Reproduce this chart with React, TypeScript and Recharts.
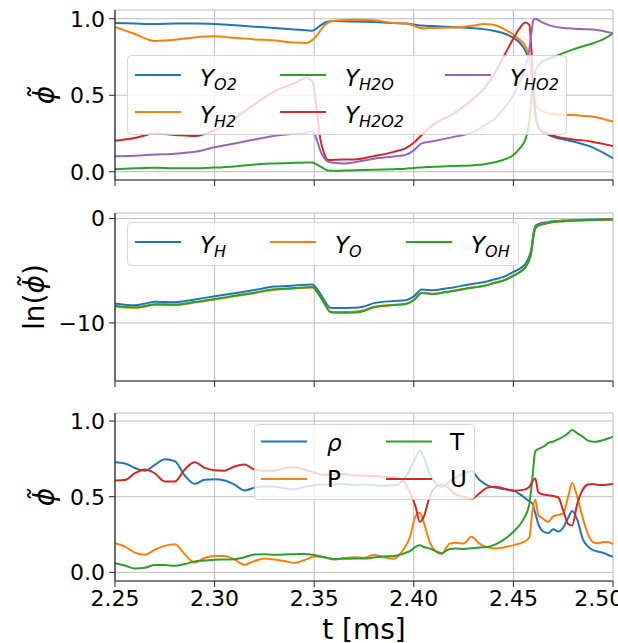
import { LineChart, Line, XAxis, YAxis, CartesianGrid, Legend } from 'recharts';

const FONT = 'DejaVu Sans, sans-serif';
const C = { blue: '#1f77b4', orange: '#ff7f0e', green: '#2ca02c', red: '#d62728', purple: '#9467bd' };
const X_TICKS = [2.25, 2.3, 2.35, 2.4, 2.45, 2.5];
const SPINE = '#222';
const GRID = '#bdbdbd';

// top panel: major species
const tTop = [2.25, 2.26, 2.27, 2.28, 2.29, 2.30, 2.31, 2.32, 2.33, 2.34, 2.346, 2.349, 2.351, 2.353, 2.355, 2.357,
  2.36, 2.365, 2.37, 2.38, 2.39, 2.396, 2.40, 2.404, 2.41, 2.42, 2.43, 2.435, 2.44, 2.445, 2.45, 2.453, 2.456,
  2.458, 2.459, 2.460, 2.461, 2.462, 2.464, 2.467, 2.47, 2.475, 2.48, 2.485, 2.49, 2.495, 2.50];
const yO2 = [0.972, 0.968, 0.965, 0.968, 0.968, 0.965, 0.958, 0.948, 0.94, 0.93, 0.925, 0.922, 0.935, 0.955, 0.972, 0.982,
  0.985, 0.983, 0.982, 0.978, 0.972, 0.968, 0.962, 0.955, 0.952, 0.945, 0.937, 0.932, 0.922, 0.905, 0.875, 0.845, 0.79,
  0.72, 0.65, 0.52, 0.38, 0.31, 0.265, 0.245, 0.228, 0.212, 0.198, 0.18, 0.158, 0.125, 0.088];
const yH2 = [0.946, 0.90, 0.855, 0.862, 0.878, 0.885, 0.875, 0.865, 0.858, 0.845, 0.842, 0.86, 0.885, 0.92, 0.955, 0.975,
  0.987, 0.99, 0.993, 0.99, 0.972, 0.97, 0.955, 0.938, 0.94, 0.942, 0.955, 0.965, 0.96, 0.935, 0.895, 0.864, 0.82,
  0.74, 0.66, 0.52, 0.45, 0.42, 0.40, 0.385, 0.375, 0.372, 0.37, 0.365, 0.36, 0.345, 0.328];
const yH2O = [0.017, 0.022, 0.026, 0.022, 0.022, 0.027, 0.035, 0.048, 0.054, 0.058, 0.06, 0.061, 0.05, 0.035, 0.02, 0.008,
  0.006, 0.008, 0.01, 0.013, 0.017, 0.02, 0.025, 0.028, 0.033, 0.038, 0.043, 0.048, 0.06, 0.078, 0.11, 0.15, 0.21,
  0.33, 0.48, 0.6, 0.655, 0.685, 0.715, 0.735, 0.75, 0.775, 0.80, 0.82, 0.84, 0.865, 0.905];
const yH2O2 = [0.202, 0.22, 0.25, 0.24, 0.233, 0.27, 0.35, 0.44, 0.525, 0.578, 0.612, 0.59, 0.44, 0.22, 0.12, 0.076,
  0.078, 0.08, 0.08, 0.102, 0.13, 0.155, 0.19, 0.24, 0.31, 0.38, 0.478, 0.54, 0.63, 0.75, 0.87, 0.935, 0.975,
  0.96, 0.80, 0.55, 0.38, 0.31, 0.27, 0.25, 0.235, 0.22, 0.21, 0.205, 0.195, 0.182, 0.168];
const yHO2 = [0.102, 0.105, 0.112, 0.118, 0.13, 0.16, 0.185, 0.21, 0.235, 0.248, 0.255, 0.265, 0.22, 0.14, 0.09, 0.065,
  0.058, 0.054, 0.062, 0.085, 0.1, 0.11, 0.14, 0.185, 0.2, 0.228, 0.26, 0.3, 0.34, 0.41, 0.5, 0.58, 0.68,
  0.8, 0.9, 0.99, 1.0, 0.995, 0.98, 0.963, 0.95, 0.94, 0.935, 0.932, 0.93, 0.92, 0.905];

// middle panel: radicals, log scale values
const tMid = [2.25, 2.255, 2.26, 2.265, 2.27, 2.28, 2.29, 2.30, 2.31, 2.32, 2.33, 2.34, 2.349, 2.352, 2.355, 2.358,
  2.36, 2.37, 2.375, 2.38, 2.39, 2.396, 2.40, 2.404, 2.41, 2.416, 2.42, 2.426, 2.43, 2.436, 2.44, 2.446, 2.45,
  2.454, 2.456, 2.458, 2.459, 2.460, 2.461, 2.463, 2.467, 2.47, 2.475, 2.48, 2.49, 2.50];
const lnH = [-8.14, -8.25, -8.3, -8.15, -7.98, -8.02, -7.75, -7.45, -7.15, -6.85, -6.52, -6.42, -6.31, -6.9, -7.8, -8.55,
  -8.58, -8.55, -8.42, -8.1, -7.9, -7.82, -7.45, -6.8, -6.88, -6.69, -6.6, -6.37, -6.25, -6.06, -5.85, -5.52, -5.12,
  -4.7, -4.35, -3.6, -2.9, -1.5, -0.7, -0.5, -0.35, -0.26, -0.2, -0.16, -0.1, -0.06];
const lnO = [-8.42, -8.52, -8.55, -8.42, -8.25, -8.3, -8.05, -7.75, -7.45, -7.15, -6.82, -6.7, -6.6, -7.2, -8.1, -8.9,
  -8.95, -8.92, -8.78, -8.45, -8.25, -8.15, -7.8, -7.1, -7.2, -7.02, -6.92, -6.7, -6.58, -6.4, -6.18, -5.85, -5.45,
  -5.0, -4.65, -3.9, -3.2, -1.8, -0.9, -0.62, -0.43, -0.32, -0.25, -0.2, -0.13, -0.08];
const lnOH = [-8.35, -8.45, -8.5, -8.38, -8.2, -8.24, -8.0, -7.7, -7.4, -7.1, -6.78, -6.66, -6.56, -7.15, -8.1, -8.95,
  -9.02, -9.0, -8.85, -8.5, -8.28, -8.18, -7.82, -7.12, -7.22, -7.05, -6.95, -6.72, -6.6, -6.42, -6.2, -5.88, -5.48,
  -5.05, -4.7, -3.95, -3.25, -1.85, -0.95, -0.65, -0.45, -0.33, -0.26, -0.2, -0.13, -0.08];

// bottom panel: thermodynamic fields
const tBot = [2.25, 2.255, 2.26, 2.265, 2.27, 2.275, 2.28, 2.285, 2.29, 2.295, 2.30, 2.305, 2.31, 2.315, 2.32, 2.325,
  2.33, 2.335, 2.34, 2.345, 2.35, 2.355, 2.36, 2.365, 2.37, 2.375, 2.38, 2.385, 2.39, 2.395, 2.398, 2.401, 2.403,
  2.405, 2.408, 2.411, 2.414, 2.418, 2.421, 2.425, 2.429, 2.433, 2.437, 2.441, 2.445, 2.45, 2.455, 2.458, 2.4595,
  2.461, 2.4625, 2.465, 2.4675, 2.47, 2.4725, 2.475, 2.4775, 2.4795, 2.482, 2.485, 2.4875, 2.49, 2.4925, 2.495,
  2.4975, 2.50];
const rho = [0.727, 0.72, 0.69, 0.672, 0.71, 0.748, 0.735, 0.64, 0.585, 0.612, 0.615, 0.607, 0.58, 0.541, 0.56, 0.568,
  0.565, 0.556, 0.548, 0.565, 0.576, 0.58, 0.581, 0.584, 0.577, 0.58, 0.577, 0.572, 0.575, 0.615, 0.68, 0.76, 0.805,
  0.76, 0.65, 0.59, 0.565, 0.6, 0.625, 0.655, 0.668, 0.61, 0.575, 0.56, 0.55, 0.54, 0.5, 0.47, 0.455,
  0.39, 0.32, 0.27, 0.26, 0.285, 0.27, 0.295, 0.36, 0.405, 0.35, 0.215, 0.17, 0.147, 0.138, 0.13,
  0.115, 0.103];
const pres = [0.192, 0.17, 0.13, 0.116, 0.15, 0.175, 0.185, 0.12, 0.065, 0.095, 0.108, 0.109, 0.085, 0.05, 0.075, 0.092,
  0.085, 0.075, 0.062, 0.08, 0.105, 0.1, 0.085, 0.095, 0.1, 0.096, 0.114, 0.1, 0.09, 0.155, 0.23, 0.375, 0.394,
  0.33, 0.2, 0.14, 0.121, 0.19, 0.195, 0.19, 0.235, 0.19, 0.165, 0.158, 0.165, 0.18, 0.2, 0.23, 0.4,
  0.48, 0.38, 0.354, 0.334, 0.37, 0.38, 0.39, 0.5, 0.59, 0.5, 0.35, 0.25, 0.2, 0.192, 0.2,
  0.2, 0.187];
const temp = [0.061, 0.045, 0.025, 0.03, 0.048, 0.048, 0.044, 0.055, 0.072, 0.078, 0.083, 0.085, 0.087, 0.1, 0.118, 0.12,
  0.116, 0.118, 0.12, 0.122, 0.115, 0.1, 0.088, 0.09, 0.092, 0.092, 0.098, 0.105, 0.108, 0.125, 0.14, 0.17, 0.18,
  0.168, 0.158, 0.14, 0.128, 0.155, 0.158, 0.155, 0.16, 0.165, 0.168, 0.185, 0.215, 0.268, 0.35, 0.45, 0.62,
  0.8, 0.815, 0.83, 0.855, 0.865, 0.88, 0.896, 0.92, 0.94, 0.92, 0.895, 0.87, 0.863, 0.865, 0.874,
  0.885, 0.896];
const vel = [0.607, 0.61, 0.655, 0.68, 0.655, 0.6, 0.6, 0.68, 0.727, 0.69, 0.675, 0.672, 0.7, 0.712, 0.68, 0.672,
  0.672, 0.69, 0.695, 0.68, 0.66, 0.643, 0.648, 0.65, 0.642, 0.64, 0.636, 0.632, 0.628, 0.6, 0.53, 0.43, 0.334,
  0.367, 0.5, 0.566, 0.58, 0.55, 0.515, 0.5, 0.485, 0.522, 0.56, 0.565, 0.555, 0.54, 0.545, 0.565, 0.6,
  0.62, 0.53, 0.515, 0.51, 0.505, 0.495, 0.41, 0.32, 0.31, 0.45, 0.55, 0.58, 0.584, 0.578, 0.577,
  0.58, 0.584];

const topRows = tTop.map((t, i) => ({ t, O2: yO2[i], H2: yH2[i], H2O: yH2O[i], H2O2: yH2O2[i], HO2: yHO2[i] }));
const midRows = tMid.map((t, i) => ({ t, H: lnH[i], O: lnO[i], OH: lnOH[i] }));
const botRows = tBot.map((t, i) => ({ t, rho: rho[i], P: pres[i], T: temp[i], U: vel[i] }));

const PHI = '\u03D5\u0303';

function YLab({ px, py, kind }: any) {
  return (
    <text transform={`rotate(-90 ${px} ${py})`} x={px} y={py} textAnchor="middle"
      fontSize={28} fontFamily={FONT} fill="#000">
      {kind === 'ln'
        ? <><tspan>ln(</tspan><tspan fontStyle="italic">{PHI}</tspan><tspan>)</tspan></>
        : <tspan fontStyle="italic">{PHI}</tspan>}
    </text>
  );
}

function XLab({ px, py }: any) {
  return <text x={px} y={py} textAnchor="middle" fontSize={28} fontFamily={FONT} fill="#000">t [ms]</text>;
}

const Ysub = (sub: string) => (
  <>
    <tspan fontStyle="italic">Y</tspan>
    <tspan fontStyle="italic" fontSize={16} dy={4}>{sub}</tspan>
  </>
);

type Item = { color: string; hx: number; y: number; lx: number; by: number; label: any };

function LegendBox({ w, h, items }: { w: number; h: number; items: Item[] }) {
  return (
    <svg width={w} height={h} style={{ display: 'block', overflow: 'visible' }}>
      <rect x={0.5} y={0.5} width={w - 1} height={h - 1} rx={4}
        fill="#fff" fillOpacity={0.8} stroke="#ccc" strokeOpacity={0.8} />
      {items.map((it, i) => (
        <g key={i}>
          <line x1={it.hx} x2={it.hx + 46} y1={it.y} y2={it.y} stroke={it.color} strokeWidth={2} />
          <text x={it.lx} y={it.y + it.by} fontSize={23} fontFamily={FONT} fill="#000">{it.label}</text>
        </g>
      ))}
    </svg>
  );
}

const topItems: Item[] = [
  { color: C.blue, hx: 8, y: 20, lx: 73, by: 11, label: Ysub('O2') },
  { color: C.orange, hx: 8, y: 57, lx: 73, by: 11, label: Ysub('H2') },
  { color: C.green, hx: 153, y: 20, lx: 218, by: 11, label: Ysub('H2O') },
  { color: C.red, hx: 153, y: 57, lx: 218, by: 11, label: Ysub('H2O2') },
  { color: C.purple, hx: 318, y: 20, lx: 383, by: 11, label: Ysub('HO2') },
];
const midItems: Item[] = [
  { color: C.blue, hx: 8, y: 20, lx: 73, by: 11, label: Ysub('H') },
  { color: C.orange, hx: 143, y: 20, lx: 208, by: 11, label: Ysub('O') },
  { color: C.green, hx: 279, y: 20, lx: 344, by: 11, label: Ysub('OH') },
];
const botItems: Item[] = [
  { color: C.blue, hx: 7, y: 17.5, lx: 73, by: 9, label: <tspan fontStyle="italic">ρ</tspan> },
  { color: C.orange, hx: 7, y: 55, lx: 73, by: 8, label: 'P' },
  { color: C.green, hx: 132, y: 17.5, lx: 196, by: 8, label: 'T' },
  { color: C.red, hx: 132, y: 55, lx: 196, by: 8, label: 'U' },
];

const tickFont = { fontSize: 22, fill: '#000', fontFamily: FONT };
const noLabel = () => '';

function frameAxes(yDomain: number[]) {
  return [
    <XAxis key="xt" xAxisId="top" orientation="top" dataKey="t" type="number" domain={[2.25, 2.5]}
      allowDataOverflow height={0} tick={false} tickLine={false} axisLine={{ stroke: SPINE, strokeWidth: 1.2 }} />,
    <YAxis key="yr" yAxisId="r" orientation="right" type="number" domain={yDomain} allowDataOverflow
      width={0} tick={false} tickLine={false} axisLine={{ stroke: SPINE, strokeWidth: 1.2 }} />,
  ];
}

const line = (key: string, color: string) => (
  <Line key={key} type="monotone" dataKey={key} stroke={color} strokeWidth={2} dot={false}
    activeDot={false} isAnimationActive={false} />
);

export default function App() {
  const topDomain = [-0.054, 1.057];
  const midDomain = [-15.56, 0.53];
  const botDomain = [-0.057, 1.053];
  return (
    <div style={{ position: 'absolute', left: 0, top: 0, width: 618, height: 643, background: '#fff', fontFamily: FONT }}>
      <div style={{ position: 'absolute', left: 0, top: 0 }}>
        <LineChart width={618} height={200} data={topRows} margin={{ top: 10, right: 5, bottom: 0, left: 0 }}>
          <CartesianGrid stroke={GRID} strokeWidth={1} />
          <XAxis dataKey="t" type="number" domain={[2.25, 2.5]} ticks={X_TICKS} allowDataOverflow height={20}
            tickFormatter={noLabel} tick={tickFont} tickSize={6} tickLine={{ stroke: SPINE }}
            axisLine={{ stroke: SPINE, strokeWidth: 1.2 }} />
          <YAxis type="number" domain={topDomain} ticks={[0, 0.5, 1]} allowDataOverflow width={115}
            tickFormatter={(v: number) => v.toFixed(1)} tickSize={6} tickMargin={4} tick={tickFont}
            tickLine={{ stroke: SPINE }} axisLine={{ stroke: SPINE, strokeWidth: 1.2 }}
            label={<YLab px={54} py={95} />} />
          {frameAxes(topDomain)}
          {line('O2', C.blue)}
          {line('H2', C.orange)}
          {line('H2O', C.green)}
          {line('H2O2', C.red)}
          {line('HO2', C.purple)}
          <Legend layout="horizontal" verticalAlign="middle" align="center"
            wrapperStyle={{ left: 127, top: 55, width: 440, height: 80 }}
            content={() => <LegendBox w={440} h={80} items={topItems} />} />
        </LineChart>
      </div>

      <div style={{ position: 'absolute', left: 0, top: 200 }}>
        <LineChart width={618} height={200} data={midRows} margin={{ top: 13, right: 5, bottom: 0, left: 0 }}>
          <CartesianGrid stroke={GRID} strokeWidth={1} />
          <XAxis dataKey="t" type="number" domain={[2.25, 2.5]} ticks={X_TICKS} allowDataOverflow height={19}
            tickFormatter={noLabel} tick={tickFont} tickSize={6} tickLine={{ stroke: SPINE }}
            axisLine={{ stroke: SPINE, strokeWidth: 1.2 }} />
          <YAxis type="number" domain={midDomain} ticks={[-10, 0]} allowDataOverflow width={115}
            tickFormatter={(v: number) => (v < 0 ? '\u2212' + Math.abs(v) : String(v))}
            tickSize={6} tickMargin={4} tick={tickFont}
            tickLine={{ stroke: SPINE }} axisLine={{ stroke: SPINE, strokeWidth: 1.2 }}
            label={<YLab px={44} py={97} kind="ln" />} />
          {frameAxes(midDomain)}
          {line('H', C.blue)}
          {line('O', C.orange)}
          {line('OH', C.green)}
          <Legend layout="horizontal" verticalAlign="middle" align="center"
            wrapperStyle={{ left: 127, top: 22, width: 392, height: 44 }}
            content={() => <LegendBox w={392} h={44} items={midItems} />} />
        </LineChart>
      </div>

      <div style={{ position: 'absolute', left: 0, top: 400 }}>
        <LineChart width={618} height={243} data={botRows} margin={{ top: 13, right: 5, bottom: 0, left: 0 }}>
          <CartesianGrid stroke={GRID} strokeWidth={1} />
          <XAxis dataKey="t" type="number" domain={[2.25, 2.5]} ticks={X_TICKS} allowDataOverflow height={62}
            tickFormatter={(v: number) => v.toFixed(2)} tick={tickFont} tickSize={6} tickMargin={3}
            tickLine={{ stroke: SPINE }} axisLine={{ stroke: SPINE, strokeWidth: 1.2 }}
            label={<XLab px={364} py={239} />} />
          <YAxis type="number" domain={botDomain} ticks={[0, 0.5, 1]} allowDataOverflow width={115}
            tickFormatter={(v: number) => v.toFixed(1)} tickSize={6} tickMargin={4} tick={tickFont}
            tickLine={{ stroke: SPINE }} axisLine={{ stroke: SPINE, strokeWidth: 1.2 }}
            label={<YLab px={54} py={97} />} />
          {frameAxes(botDomain)}
          {line('rho', C.blue)}
          {line('P', C.orange)}
          {line('T', C.green)}
          {line('U', C.red)}
          <Legend layout="horizontal" verticalAlign="middle" align="center"
            wrapperStyle={{ left: 254, top: 24, width: 221, height: 76 }}
            content={() => <LegendBox w={221} h={76} items={botItems} />} />
        </LineChart>
      </div>
    </div>
  );
}
